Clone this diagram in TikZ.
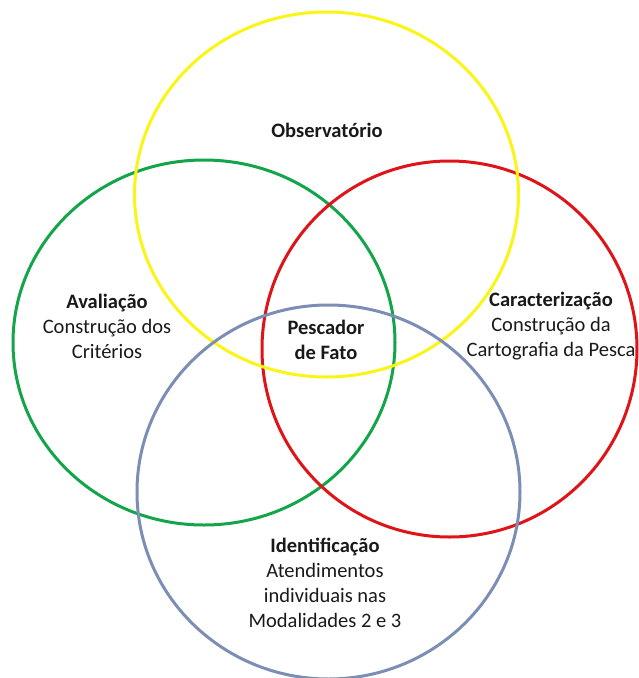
\documentclass[tikz,border=0pt]{standalone}
\usepackage{fontspec}
\setmainfont{Carlito}
\definecolor{cyel}{RGB}{250,245,20}
\definecolor{cgrn}{RGB}{20,165,75}
\definecolor{cred}{RGB}{222,20,24}
\definecolor{cblu}{RGB}{125,142,180}
\tikzset{
  ring/.style={line width=3pt},
  lbl/.style={align=center, inner sep=0pt, font=\fontsize{20.5}{25}\selectfont, text=black!90}
}
\begin{document}
\begin{tikzpicture}[x=1pt,y=-1pt]
\useasboundingbox (0,0) rectangle (638,678);
\draw[ring, cgrn] (204,342.5) ellipse [x radius=191pt, y radius=182.5pt];
\draw[ring, cred] (449.5,349) ellipse [x radius=187.5pt, y radius=188pt];
\draw[ring, cyel] (326.5,194.5) ellipse [x radius=192pt, y radius=182.5pt];
\draw[ring, cblu] (328.5,492) ellipse [x radius=191.5pt, y radius=187pt];
\node[lbl] (obs) at (327,130) {\textbf{Observatório}};
\node[lbl] (ava) at (107,326) {\textbf{Avaliação}\\Construção dos\\Critérios};
\node[lbl] (pes) at (326,340) {\textbf{Pescador}\\\textbf{de Fato}};
\node[lbl] (car) at (551,326) {\textbf{Caracterização}\\Construção da\\Cartografia da Pesca};
\node[lbl] (ide) at (325,582.5) {\textbf{Identificação}\\Atendimentos\\individuais nas\\Modalidades 2 e 3};
\end{tikzpicture}
\end{document}
